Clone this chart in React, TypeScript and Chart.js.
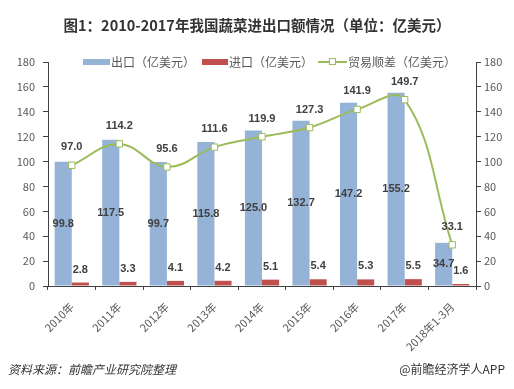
import React, { useEffect, useRef } from 'react';
import { Chart, registerables } from 'chart.js';

Chart.register(...registerables);

const categories = ['2010年', '2011年', '2012年', '2013年', '2014年', '2015年', '2016年', '2017年', '2018年1-3月'];
const exportValues = [99.8, 117.5, 99.7, 115.8, 125.0, 132.7, 147.2, 155.2, 34.7];
const importValues = [2.8, 3.3, 4.1, 4.2, 5.1, 5.4, 5.3, 5.5, 1.6];
const surplusValues = [97.0, 114.2, 95.6, 111.6, 119.9, 127.3, 141.9, 149.7, 33.1];
const seriesNames = ['出口（亿美元）', '进口（亿美元）', '贸易顺差（亿美元）'];
const titleText = '图1：2010-2017年我国蔬菜进出口额情况（单位：亿美元）';
const sourceText = '资料来源：前瞻产业研究院整理';
const brandText = '@前瞻经济学人APP';

const BLUE = '#95B3D7';
const RED = '#C0504D';
const GREEN = '#9BBB59';
const CJK = '"Noto Sans CJK SC", "Microsoft YaHei", sans-serif';

const valueLabelPlugin = {
  id: 'valueLabels',
  afterDatasetsDraw(chart: any) {
    const ctx = chart.ctx;
    ctx.save();
    ctx.font = 'bold 11px "Liberation Sans", Arial, sans-serif';
    ctx.fillStyle = '#404040';
    ctx.textAlign = 'center';
    ctx.textBaseline = 'middle';
    chart.data.datasets.forEach((ds: any, i: number) => {
      const meta = chart.getDatasetMeta(i);
      meta.data.forEach((el: any, j: number) => {
        const v = ds.data[j] as number;
        let y: number;
        if (i === 0) y = (el.y + el.base) / 2;
        else if (i === 1) y = el.y - 13;
        else y = el.y - 18;
        ctx.fillText(v.toFixed(1), el.x, y);
      });
    });
    ctx.restore();
  },
};

export default function App() {
  const ref = useRef<HTMLCanvasElement | null>(null);

  useEffect(() => {
    if (!ref.current) return;
    const axisColor = '#404040';
    const tickFont = { family: CJK, size: 11 };
    const chart = new Chart(ref.current, {
      type: 'bar',
      data: {
        labels: categories,
        datasets: [
          {
            type: 'bar',
            label: seriesNames[0],
            data: exportValues,
            backgroundColor: BLUE,
            yAxisID: 'y',
            order: 1,
            barPercentage: 1.0,
            categoryPercentage: 0.72,
          },
          {
            type: 'bar',
            label: seriesNames[1],
            data: importValues,
            backgroundColor: RED,
            yAxisID: 'y',
            order: 1,
            barPercentage: 1.0,
            categoryPercentage: 0.72,
          },
          {
            type: 'line',
            label: seriesNames[2],
            data: surplusValues,
            borderColor: GREEN,
            borderWidth: 2,
            tension: 0.4,
            pointStyle: 'rect',
            pointRadius: 4.5,
            pointBackgroundColor: '#ffffff',
            pointBorderColor: GREEN,
            pointBorderWidth: 1,
            yAxisID: 'y',
            order: 0,
          } as any,
        ],
      },
      options: {
        responsive: false,
        animation: false,
        devicePixelRatio: 1,
        layout: { padding: { top: 62, left: 0, right: 0, bottom: 0 } },
        plugins: {
          legend: { display: false },
          title: { display: false },
          tooltip: { enabled: false },
        },
        scales: {
          x: {
            type: 'category',
            offset: true,
            grid: {
              offset: true,
              drawOnChartArea: false,
              drawTicks: true,
              tickLength: 4,
              color: axisColor,
            },
            border: { display: true, color: axisColor, width: 1 },
            ticks: {
              autoSkip: false,
              maxRotation: 45,
              minRotation: 45,
              padding: 10,
              color: '#595959',
              font: tickFont,
            },
            afterFit: (s: any) => {
              s.height = 103;
            },
          },
          y: {
            position: 'left',
            min: 0,
            max: 180,
            ticks: { stepSize: 20, color: '#595959', font: tickFont, padding: 8 },
            grid: { drawOnChartArea: false, drawTicks: true, tickLength: 5, color: axisColor },
            border: { display: true, color: axisColor, width: 1 },
            afterFit: (s: any) => {
              s.width = 48;
            },
          },
          y1: {
            position: 'right',
            min: 0,
            max: 180,
            ticks: { stepSize: 20, color: '#595959', font: tickFont, padding: 3 },
            grid: { drawOnChartArea: false, drawTicks: true, tickLength: 5, color: axisColor },
            border: { display: true, color: axisColor, width: 1 },
            afterFit: (s: any) => {
              s.width = 38;
            },
          },
        },
      } as any,
      plugins: [valueLabelPlugin],
    });
    return () => chart.destroy();
  }, []);

  const legendText: React.CSSProperties = {
    position: 'absolute',
    top: 54,
    fontFamily: CJK,
    fontSize: 12,
    lineHeight: '16px',
    color: '#595959',
    whiteSpace: 'nowrap',
  };

  return (
    <div
      style={{
        position: 'fixed',
        left: 0,
        top: 0,
        width: 514,
        height: 389,
        background: '#ffffff',
        overflow: 'hidden',
      }}
    >
      <canvas ref={ref} width={514} height={389} style={{ position: 'absolute', left: 0, top: 0 }} />
      <div
        style={{
          position: 'absolute',
          left: 0,
          top: 14,
          width: 514,
          textAlign: 'center',
          fontFamily: CJK,
          fontWeight: 'bold',
          fontSize: 14.5,
          lineHeight: '22px',
          color: '#333333',
          whiteSpace: 'nowrap',
        }}
      >
        {titleText}
      </div>
      {/* legend */}
      <div style={{ position: 'absolute', left: 83, top: 59, width: 27, height: 6, background: BLUE }} />
      <div style={{ ...legendText, left: 111 }}>{seriesNames[0]}</div>
      <div style={{ position: 'absolute', left: 202, top: 59, width: 26, height: 6, background: RED }} />
      <div style={{ ...legendText, left: 229 }}>{seriesNames[1]}</div>
      <div style={{ position: 'absolute', left: 318, top: 61, width: 29, height: 2, background: GREEN }} />
      <div
        style={{
          position: 'absolute',
          left: 329,
          top: 58,
          width: 5,
          height: 5,
          background: '#ffffff',
          border: `1px solid ${GREEN}`,
        }}
      />
      <div style={{ ...legendText, left: 348 }}>{seriesNames[2]}</div>
      {/* footer */}
      <div
        style={{
          position: 'absolute',
          left: 8,
          top: 361,
          fontFamily: CJK,
          fontStyle: 'italic',
          fontSize: 12,
          lineHeight: '16px',
          color: '#333333',
          whiteSpace: 'nowrap',
        }}
      >
        {sourceText}
      </div>
      <div
        style={{
          position: 'absolute',
          right: 9,
          top: 361,
          fontFamily: CJK,
          fontSize: 12,
          lineHeight: '16px',
          color: '#333333',
          whiteSpace: 'nowrap',
        }}
      >
        {brandText}
      </div>
    </div>
  );
}
